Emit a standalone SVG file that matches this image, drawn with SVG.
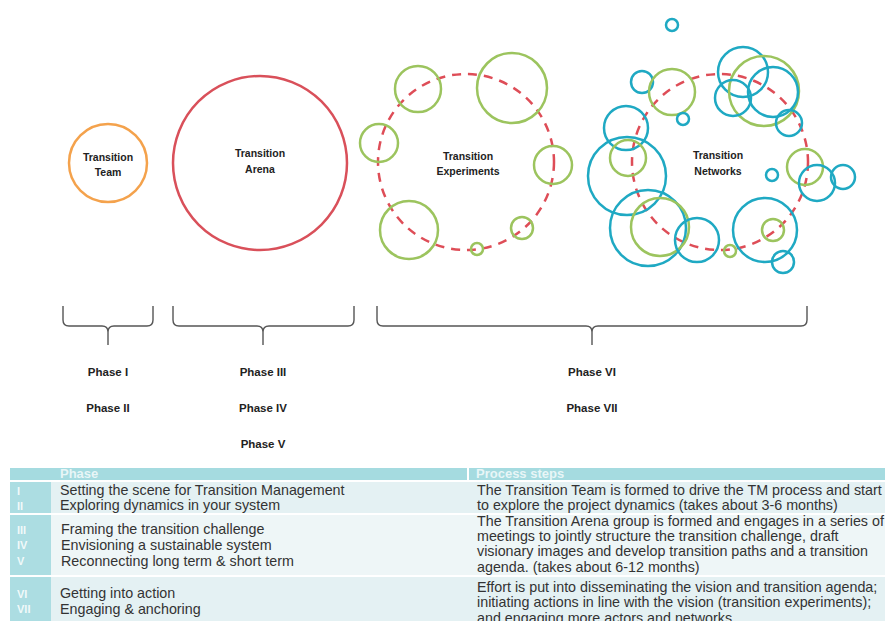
<svg xmlns="http://www.w3.org/2000/svg" width="885" height="621" viewBox="0 0 885 621">
<style>
.lbl{font-family:"Liberation Sans",Arial,sans-serif;font-weight:bold;font-size:10.5px;fill:#222;text-anchor:middle}
.ph{font-family:"Liberation Sans",Arial,sans-serif;font-weight:bold;font-size:11.5px;fill:#222;text-anchor:middle}
.g{fill:none;stroke:#9cc45e;stroke-width:2.5}
.t{fill:none;stroke:#1fa9c3;stroke-width:2.5}
.dash{fill:none;stroke:#de4d57;stroke-width:2.5;stroke-dasharray:9 7}
.br{fill:none;stroke:#555;stroke-width:1.4}
.tx{font-family:"Liberation Sans",Arial,sans-serif;font-size:14.3px;fill:#333}
.hd{font-family:"Liberation Sans",Arial,sans-serif;font-size:13px;font-weight:bold;fill:#fff;fill-opacity:0.75}
.rn{font-family:"Liberation Sans",Arial,sans-serif;font-size:11px;font-weight:bold;fill:#fff;fill-opacity:0.85}
</style>
<rect width="885" height="621" fill="#fff"/>

<g id="team">
<circle cx="108" cy="163" r="39" fill="none" stroke="#f4a24c" stroke-width="2.5"/>
<text class="lbl" x="108" y="161">Transition</text>
<text class="lbl" x="108" y="176">Team</text>
</g>

<g id="arena">
<circle cx="260" cy="163" r="87" fill="none" stroke="#d9505a" stroke-width="2.5"/>
<text class="lbl" x="260" y="157">Transition</text>
<text class="lbl" x="260" y="173">Arena</text>
</g>

<g id="experiments">
<circle class="dash" cx="466" cy="162" r="88"/>
<circle class="g" cx="418" cy="89" r="23"/>
<circle class="g" cx="512" cy="88" r="35"/>
<circle class="g" cx="379" cy="143" r="19"/>
<circle class="g" cx="553" cy="165" r="19"/>
<circle class="g" cx="409" cy="230" r="29"/>
<circle class="g" cx="522" cy="228" r="11"/>
<circle class="g" cx="477" cy="249" r="6"/>
<text class="lbl" x="468" y="160">Transition</text>
<text class="lbl" x="468" y="175">Experiments</text>
</g>

<g id="networks">
<circle class="dash" cx="720" cy="162" r="88"/>
<circle class="t" cx="672" cy="25" r="6"/>
<circle class="t" cx="642" cy="82" r="11"/>
<circle class="g" cx="672" cy="92" r="23"/>
<circle class="t" cx="683" cy="119" r="6"/>
<circle class="t" cx="743" cy="72" r="25"/>
<circle class="g" cx="764" cy="91" r="35"/>
<circle class="t" cx="733" cy="98" r="18"/>
<circle class="t" cx="773" cy="92" r="25"/>
<circle class="t" cx="789" cy="123" r="13"/>
<circle class="t" cx="626" cy="128" r="22"/>
<circle class="t" cx="627" cy="176" r="39"/>
<circle class="g" cx="628" cy="158" r="18"/>
<circle class="t" cx="648" cy="228" r="38"/>
<circle class="g" cx="660" cy="227" r="29"/>
<circle class="t" cx="697" cy="240" r="22"/>
<circle class="g" cx="730" cy="251" r="6"/>
<circle class="g" cx="805" cy="167" r="18"/>
<circle class="t" cx="817" cy="183" r="18"/>
<circle class="t" cx="843" cy="177" r="12"/>
<circle class="t" cx="772" cy="175" r="6"/>
<circle class="t" cx="765" cy="230" r="32"/>
<circle class="g" cx="773" cy="230" r="11"/>
<circle class="t" cx="783" cy="262" r="11"/>
<text class="lbl" x="718" y="159">Transition</text>
<text class="lbl" x="718" y="175">Networks</text>
</g>

<g id="brackets">
<path class="br" d="M63,306 V320 Q63,326 69,326 H102 Q108,326 108,332 V345 M108,332 Q108,326 114,326 H147 Q153,326 153,320 V306"/>
<path class="br" d="M173,306 V320 Q173,326 179,326 H257 Q263,326 263,332 V345 M263,332 Q263,326 269,326 H348 Q354,326 354,320 V306"/>
<path class="br" d="M377,306 V320 Q377,326 383,326 H586 Q592,326 592,332 V345 M592,332 Q592,326 598,326 H801 Q807,326 807,320 V306"/>
</g>

<g id="phases">
<text class="ph" x="108" y="376">Phase I</text>
<text class="ph" x="108" y="412">Phase II</text>
<text class="ph" x="263" y="376">Phase III</text>
<text class="ph" x="263" y="412">Phase IV</text>
<text class="ph" x="263" y="448">Phase V</text>
<text class="ph" x="592" y="376">Phase VI</text>
<text class="ph" x="592" y="412">Phase VII</text>
</g>

<g id="table">
<rect x="10" y="468" width="875" height="12" fill="#a5dbe0"/>
<rect x="467" y="468" width="2" height="12" fill="#fff"/>
<rect x="10" y="482" width="875" height="31" fill="#e4f1f3"/>
<rect x="10" y="515" width="875" height="60" fill="#eef6f7"/>
<rect x="10" y="577" width="875" height="44" fill="#e4f1f3"/>
<rect x="10" y="482" width="41" height="31" fill="#acdde2"/>
<rect x="10" y="515" width="41" height="60" fill="#acdde2"/>
<rect x="10" y="577" width="41" height="44" fill="#acdde2"/>
<text class="hd" x="60" y="478">Phase</text>
<text class="hd" x="476" y="478">Process steps</text>
<text class="rn" x="17" y="495">I</text>
<text class="rn" x="17" y="510">II</text>
<text class="rn" x="17" y="534">III</text>
<text class="rn" x="17" y="549">IV</text>
<text class="rn" x="17" y="565">V</text>
<text class="rn" x="17" y="598">VI</text>
<text class="rn" x="17" y="613">VII</text>
<text class="tx" x="60" y="495">Setting the scene for Transition Management</text>
<text class="tx" x="60" y="510">Exploring dynamics in your system</text>
<text class="tx" x="61" y="534">Framing the transition challenge</text>
<text class="tx" x="61" y="550">Envisioning a sustainable system</text>
<text class="tx" x="61" y="566">Reconnecting long term &amp; short term</text>
<text class="tx" x="60" y="598">Getting into action</text>
<text class="tx" x="60" y="614">Engaging &amp; anchoring</text>
<text class="tx" x="477" y="495">The Transition Team is formed to drive the TM process and start</text>
<text class="tx" x="477" y="510">to explore the project dynamics (takes about 3-6 months)</text>
<text class="tx" x="477" y="526">The Transition Arena group is formed and engages in a series of</text>
<text class="tx" x="477" y="541">meetings to jointly structure the transition challenge, draft</text>
<text class="tx" x="477" y="556">visionary images and develop transition paths and a transition</text>
<text class="tx" x="477" y="572">agenda. (takes about 6-12 months)</text>
<text class="tx" x="477" y="592">Effort is put into disseminating the vision and transition agenda;</text>
<text class="tx" x="477" y="607">initiating actions in line with the vision (transition experiments);</text>
<text class="tx" x="477" y="623">and engaging more actors and networks.</text>
</g>
</svg>
